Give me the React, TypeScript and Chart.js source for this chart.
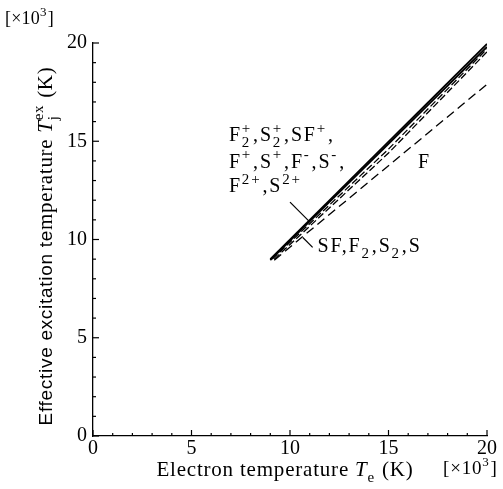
import React, { useEffect, useRef } from 'react';
import { Chart, registerables } from 'chart.js';

Chart.register(...registerables);

const SERIF = '"Liberation Serif", "Times New Roman", serif';
const SANS = '"Liberation Sans", Arial, sans-serif';

// axis range / ticks (×10^3 K)
const axisMin = 0;
const axisMax = 20;
const majorStep = 5;

// Series (electron temperature Te, effective excitation temperature Tj^ex), ×10^3 K
const ionsSolidAX = [9, 20];
const ionsSolidAY = [9.0, 19.95];
const ionsSolidBX = [9, 20];
const ionsSolidBY = [8.95, 19.8];
const neutralDashAX = [9.1, 15, 20];
const neutralDashAY = [9.0, 14.6, 19.7];
const neutralDashBX = [9.2, 15, 20];
const neutralDashBY = [9.0, 14.4, 19.55];
const fAtomX = [9.2, 20];
const fAtomY = [8.95, 17.9];

type Seg = { t?: string; sub?: string; sup?: string; italic?: boolean; family?: string; size?: number };

function pts(xs: number[], ys: number[]) {
  return xs.map((x, i) => ({ x, y: ys[i] }));
}

function richRun(
  ctx: CanvasRenderingContext2D,
  segs: Seg[],
  x: number,
  y: number,
  size: number,
  family: string,
  spacing: number,
  smallRatio: number,
  draw: boolean
) {
  let cx = x;
  const small = Math.round(size * smallRatio);
  const c: any = ctx;
  c.letterSpacing = `${spacing}px`;
  ctx.textAlign = 'left';
  ctx.textBaseline = 'alphabetic';
  for (const s of segs) {
    const fam = s.family || family;
    const sz = s.size || size;
    if (s.t !== undefined) {
      ctx.font = `${s.italic ? 'italic ' : ''}${sz}px ${fam}`;
      if (draw) ctx.fillText(s.t, cx, y);
      cx += ctx.measureText(s.t).width;
    } else {
      ctx.font = `${small}px ${fam}`;
      let a = 0;
      let b = 0;
      if (s.sub) {
        if (draw) ctx.fillText(s.sub, cx, y + size * 0.28);
        a = ctx.measureText(s.sub).width;
      }
      if (s.sup) {
        if (draw) ctx.fillText(s.sup, cx, y - size * 0.42);
        b = ctx.measureText(s.sup).width;
      }
      cx += Math.max(a, b) + 1;
    }
  }
  c.letterSpacing = '0px';
  return cx - x;
}

const annoLine1: Seg[] = [{ t: 'F' }, { sub: '2', sup: '+' }, { t: ',S' }, { sub: '2', sup: '+' }, { t: ',SF' }, { sup: '+' }, { t: ',' }];
const annoLine2: Seg[] = [{ t: 'F' }, { sup: '+' }, { t: ',S' }, { sup: '+' }, { t: ',F' }, { sup: '-' }, { t: ',S' }, { sup: '-' }, { t: ',' }];
const annoLine3: Seg[] = [{ t: 'F' }, { sup: '2+' }, { t: ',S' }, { sup: '2+' }];
const annoNeutral: Seg[] = [{ t: 'SF,F' }, { sub: '2' }, { t: ',S' }, { sub: '2' }, { t: ',S' }];
const annoF: Seg[] = [{ t: 'F' }];
const xTitle: Seg[] = [{ t: 'Electron temperature ' }, { t: 'T', italic: true }, { sub: 'e' }, { t: ' (K)' }];
const yTitle: Seg[] = [
  { t: 'Effective excitation te', family: SANS, size: 19 },
  { t: 'mperature ' },
  { t: 'T', italic: true },
  { sub: 'j', sup: 'ex' },
  { t: ' (K)' },
];
const unitLabel: Seg[] = [{ t: '[×10' }, { sup: '3' }, { t: ']' }];

const overlay = {
  id: 'overlay',
  afterDraw(chart: any) {
    const ctx: CanvasRenderingContext2D = chart.ctx;
    const xs = chart.scales.x;
    const ys = chart.scales.y;
    const area = chart.chartArea;
    ctx.save();
    ctx.strokeStyle = '#000';
    ctx.fillStyle = '#000';
    ctx.lineWidth = 1.2;
    // inward ticks
    for (let v = axisMin; v <= axisMax; v++) {
      const len = v % majorStep === 0 ? 6 : 3;
      const px = xs.getPixelForValue(v);
      ctx.beginPath();
      ctx.moveTo(px, area.bottom);
      ctx.lineTo(px, area.bottom - len);
      ctx.stroke();
      const py = ys.getPixelForValue(v);
      ctx.beginPath();
      ctx.moveTo(area.left, py);
      ctx.lineTo(area.left + len, py);
      ctx.stroke();
    }
    // leader lines
    const lead = (x1: number, y1: number, x2: number, y2: number) => {
      ctx.beginPath();
      ctx.moveTo(xs.getPixelForValue(x1), ys.getPixelForValue(y1));
      ctx.lineTo(xs.getPixelForValue(x2), ys.getPixelForValue(y2));
      ctx.stroke();
    };
    lead(10.0, 11.9, 10.95, 10.95);
    lead(10.65, 10.1, 11.15, 9.6);

    // annotations
    const ax = (v: number) => xs.getPixelForValue(v);
    const ay = (v: number) => ys.getPixelForValue(v);
    const A = (segs: Seg[], x: number, y: number) => richRun(ctx, segs, ax(x), ay(y), 20, SERIF, 1.8, 0.75, true);
    A(annoLine1, 6.9, 15.0);
    A(annoLine2, 6.9, 13.65);
    A(annoLine3, 6.9, 12.4);
    A(annoNeutral, 11.4, 9.35);
    A(annoF, 16.5, 13.65);

    // x title
    const xw = richRun(ctx, xTitle, 0, 0, 21, SERIF, 0.8, 0.7, false);
    richRun(ctx, xTitle, 285 - xw / 2, 476, 21, SERIF, 0.8, 0.7, true);
    richRun(ctx, unitLabel, 443, 474, 19, SERIF, 0.8, 0.7, true);
    richRun(ctx, unitLabel, 5, 24, 18, SERIF, 0.2, 0.7, true);

    // y title rotated
    const yw = richRun(ctx, yTitle, 0, 0, 21, SERIF, 0.7, 0.7, false);
    ctx.save();
    ctx.translate(52, 246);
    ctx.rotate(-Math.PI / 2);
    richRun(ctx, yTitle, -yw / 2, 0, 21, SERIF, 0.7, 0.7, true);
    ctx.restore();

    ctx.restore();
  },
};

export default function App() {
  const ref = useRef<HTMLCanvasElement | null>(null);
  useEffect(() => {
    document.body.style.margin = '0';
    const canvas = ref.current;
    if (!canvas) return;
    const line = (xs: number[], ys: number[], width: number, dash: number[]) => ({
      data: pts(xs, ys),
      showLine: true,
      borderColor: '#000',
      backgroundColor: '#000',
      borderWidth: width,
      borderDash: dash,
      pointRadius: 0,
      fill: false,
    });
    const chart = new Chart(canvas, {
      type: 'scatter',
      data: {
        datasets: [
          line(ionsSolidAX, ionsSolidAY, 1.8, []),
          line(ionsSolidBX, ionsSolidBY, 1.8, []),
          line(neutralDashAX, neutralDashAY, 1.3, [7, 3]),
          line(neutralDashBX, neutralDashBY, 1.3, [7, 3]),
          line(fAtomX, fAtomY, 1.3, [9, 5]),
        ] as any,
      },
      options: {
        responsive: false,
        animation: false,
        devicePixelRatio: 1,
        layout: { padding: { left: 0, top: 43, right: 16, bottom: 0 } },
        plugins: { legend: { display: false }, tooltip: { enabled: false } },
        scales: {
          x: {
            type: 'linear',
            min: axisMin,
            max: axisMax,
            grid: { display: false, drawTicks: false },
            border: { display: true, color: '#000', width: 1.3 },
            ticks: {
              stepSize: majorStep,
              color: '#000',
              padding: 1,
              font: { family: SERIF, size: 20 },
            },
            afterFit: (s: any) => {
              s.height = 53;
            },
          },
          y: {
            type: 'linear',
            min: axisMin,
            max: axisMax,
            grid: { display: false, drawTicks: false },
            border: { display: true, color: '#000', width: 1.3 },
            ticks: {
              stepSize: majorStep,
              color: '#000',
              padding: 6,
              font: { family: SERIF, size: 20 },
            },
            afterFit: (s: any) => {
              s.width = 93;
            },
          },
        },
      } as any,
      plugins: [overlay],
    });
    return () => chart.destroy();
  }, []);
  return <canvas ref={ref} width={503} height={489} style={{ display: 'block' }} />;
}
